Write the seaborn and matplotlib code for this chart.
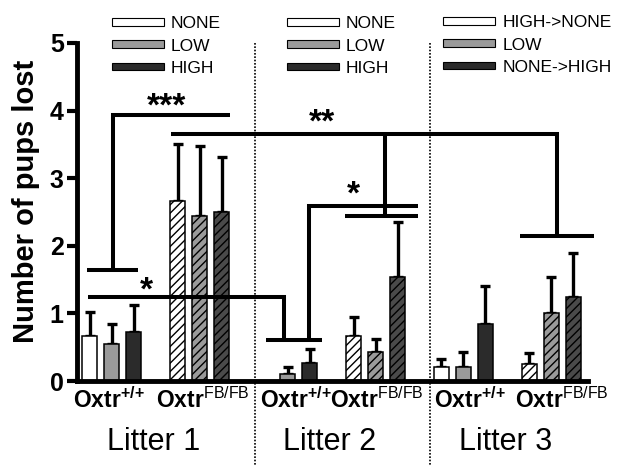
"""
Pups lost per litter for Oxtr+/+ and Oxtr FB/FB dams, by stress level.
Bar chart with one-sided SEM bars and significance brackets.
"""
import numpy as np
import pandas as pd
import matplotlib
matplotlib.use("Agg")
import matplotlib.pyplot as plt
from matplotlib.patches import Patch
import seaborn as sns

# ---------------- data ----------------
LITTERS = ["Litter 1", "Litter 2", "Litter 3"]
GENOTYPES = [r"Oxtr$^{\mathbf{+/{+}}}$", r"Oxtr$^{\mathrm{FB/FB}}$"]
LEVEL_LABELS = [["NONE", "LOW", "HIGH"],
                ["NONE", "LOW", "HIGH"],
                ["HIGH->NONE", "LOW", "NONE->HIGH"]]

# rows = litter, cols = level (NONE/LOW/HIGH)
mean_wt = [[0.66, 0.55, 0.73], [0.00, 0.10, 0.27], [0.20, 0.21, 0.84]]
mean_fb = [[2.67, 2.44, 2.50], [0.67, 0.43, 1.54], [0.25, 1.00, 1.25]]
sem_wt = [[0.36, 0.30, 0.39], [0.00, 0.10, 0.20], [0.12, 0.22, 0.57]]
sem_fb = [[0.83, 1.04, 0.82], [0.27, 0.19, 0.81], [0.16, 0.54, 0.65]]

SIG_LABELS = ["***", "*", "*", "**"]

# ---------------- style ----------------
LEVEL_COLORS = ["white", "#9a9a9a", "#2b2b2b"]
FB_COLORS = ["white", "#9a9a9a", "#4a4a4a"]

sns.set_style("ticks")
plt.rcParams["font.family"] = ["Liberation Sans", "DejaVu Sans"]
plt.rcParams["mathtext.fontset"] = "custom"
plt.rcParams["mathtext.rm"] = "Liberation Sans"
plt.rcParams["mathtext.bf"] = "Liberation Sans:bold"
plt.rcParams["hatch.linewidth"] = 1.0
for key in ("text.color", "axes.labelcolor", "axes.edgecolor",
            "xtick.color", "ytick.color"):
    plt.rcParams[key] = "black"

W, H = 618, 465


def build_frame() -> pd.DataFrame:
    rows = []
    for li in range(len(LITTERS)):
        for gi, (m, s) in enumerate(((mean_wt, sem_wt), (mean_fb, sem_fb))):
            for k in range(3):
                rows.append(dict(litter=li, geno=gi, level=k,
                                 slot=8 * li + 4 * gi + k,
                                 mean=m[li][k], sem=s[li][k]))
    return pd.DataFrame(rows)


def main() -> None:
    df = build_frame()
    fig = plt.figure(figsize=(W / 100, H / 100), dpi=100)
    ax = fig.add_axes([77 / W, 1 - 381 / H, (588 - 77) / W, (381 - 43) / H])

    sns.barplot(data=df, x="slot", y="mean", native_scale=True, width=0.68,
                color="white", edgecolor="black", linewidth=1.1,
                errorbar=None, ax=ax, zorder=2)
    for patch, row in zip(ax.patches, df.itertuples()):
        if row.geno == 0:
            patch.set_facecolor(LEVEL_COLORS[row.level])
        else:
            patch.set_facecolor(FB_COLORS[row.level])
            patch.set_hatch("////")

    has_err = df["sem"] > 0
    ax.errorbar(df.loc[has_err, "slot"], df.loc[has_err, "mean"],
                yerr=[np.zeros(has_err.sum()), df.loc[has_err, "sem"]],
                fmt="none", ecolor="black", elinewidth=2.4, capsize=3.3,
                capthick=2.4, zorder=1.5)

    ax.set_xlim(-0.57, 22.66)
    ax.set_ylim(0, 5)
    ax.set_yticks(range(6))
    ax.set_xticks([])
    ax.set_xlabel("")
    ax.set_ylabel("Number of pups lost", fontsize=21, fontweight="bold")
    ax.yaxis.set_label_coords(-0.072, 0.53)
    ax.tick_params(axis="y", labelsize=18, length=7.5, width=3, pad=2)
    for t in ax.get_yticklabels():
        t.set_fontweight("bold")
    sns.despine(ax=ax)
    for side in ("left", "bottom"):
        ax.spines[side].set_linewidth(3.5)

    # litter separators
    for li in range(1, len(LITTERS)):
        ax.plot([8 * li - 0.5] * 2, [5.0, -1.3], color="black", lw=1.2,
                ls=(0, (1, 1.0)), clip_on=False, zorder=0.5)

    # group and litter labels
    nudge = [-0.1, 0.15, 0.4, 0.05, 0.3, 0.45]
    for li, name in enumerate(LITTERS):
        for gi, g in enumerate(GENOTYPES):
            ax.text(8 * li + 4 * gi + 1 + nudge[2 * li + gi], -0.40, g,
                    ha="center", va="baseline", fontsize=16.5,
                    fontweight="bold")
        ax.text(8 * li + 2.93, -1.02, name, ha="center", va="baseline",
                fontsize=22)

    # significance brackets (slot, value)
    brackets = [
        [[(-0.13, 1.64), (2.22, 1.64)],
         [(1.05, 1.64), (1.05, 3.93), (6.39, 3.93)]],
        [[(-0.05, 1.24), (8.85, 1.24), (8.85, 0.61)],
         [(8.02, 0.61), (10.55, 0.61)]],
        [[(9.97, 0.61), (9.97, 2.585), (14.95, 2.585)]],
        [[(3.69, 3.66), (21.27, 3.66), (21.27, 2.15)],
         [(19.57, 2.15), (22.93, 2.15)],
         [(13.43, 3.66), (13.43, 2.44)],
         [(11.61, 2.44), (14.95, 2.44)]],
    ]
    # star centres; glyph sits ~0.2 units above its baseline
    star_xy = [(3.51, 4.13), (2.6, 1.40), (12.01, 2.83), (10.55, 3.89)]
    for segs, label, (sx, sy) in zip(brackets, SIG_LABELS, star_xy):
        for seg in segs:
            xs, ys = zip(*seg)
            ax.plot(xs, ys, color="black", lw=2.9, clip_on=False, zorder=4,
                    solid_capstyle="butt", solid_joinstyle="miter")
        ax.text(sx, sy - 0.2, label, ha="center", va="baseline",
                fontsize=24, fontweight="bold", zorder=4)

    # one legend per litter
    leg_x = [111.7, 286.7, 443.3]
    leg_y = [46, 46, 45]
    for li, labels in enumerate(LEVEL_LABELS):
        handles = [Patch(facecolor=c, edgecolor="black", linewidth=0.8)
                   for c in LEVEL_COLORS]
        fig.legend(handles, labels, loc="center left",
                   bbox_to_anchor=(leg_x[li] / W, 1 - leg_y[li] / H),
                   frameon=False, fontsize=12.5, handlelength=3.0,
                   handleheight=0.3, handletextpad=0.4, labelspacing=0.42,
                   borderpad=0, borderaxespad=0)

    fig.savefig("out.png", dpi=100)
    plt.close(fig)


if __name__ == "__main__":
    main()
